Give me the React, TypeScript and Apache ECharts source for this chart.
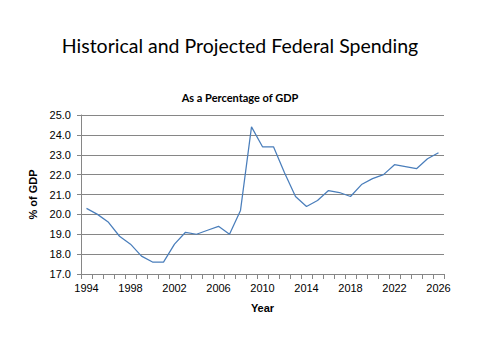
import React, { useEffect, useRef } from "react";
import * as echarts from "echarts";

const years: string[] = [];
for (let y = 1994; y <= 2026; y++) years.push(String(y));

const spending = [
  20.3, 20.0, 19.6, 18.9, 18.5, 17.9, 17.6, 17.6, 18.5, 19.1, 19.0, 19.2, 19.4,
  19.0, 20.2, 24.4, 23.4, 23.4, 22.1, 20.9, 20.4, 20.7, 21.2, 21.1, 20.9, 21.5,
  21.8, 22.0, 22.5, 22.4, 22.3, 22.8, 23.1,
];

const yMin = 17;
const yMax = 25;
const yStep = 1;

export default function App() {
  const ref = useRef<HTMLDivElement>(null);
  useEffect(() => {
    if (!ref.current) return;
    const chart = echarts.init(ref.current, undefined, { renderer: "svg" });
    const font = "Liberation Sans";
    chart.setOption({
      animation: false,
      backgroundColor: "#ffffff",
      title: [
        {
          text: "Historical and Projected Federal Spending",
          left: "center",
          top: 30,
          textStyle: { fontFamily: "Lato", fontSize: 19.5, fontWeight: "normal", color: "#000" },
        },
        {
          text: "As a Percentage of GDP",
          left: "center",
          top: 87,
          textStyle: { fontFamily: "Lato", fontSize: 11, fontWeight: "bold", color: "#000" },
        },
      ],
      grid: { left: 81, right: 36, top: 115, bottom: 86 },
      xAxis: {
        type: "category",
        data: years,
        boundaryGap: true,
        name: "Year",
        nameLocation: "middle",
        nameGap: 28,
        nameTextStyle: { fontFamily: font, fontSize: 11, fontWeight: "bold", color: "#000" },
        axisLine: { lineStyle: { color: "#868686" } },
        axisTick: { show: true, interval: 0, length: 5, lineStyle: { color: "#868686" } },
        axisLabel: { interval: 3, fontFamily: font, fontSize: 11, color: "#000", margin: 8 },
        splitLine: { show: false },
      },
      yAxis: {
        type: "value",
        min: yMin,
        max: yMax,
        interval: yStep,
        name: "% of GDP",
        nameLocation: "middle",
        nameGap: 32,
        nameTextStyle: { fontFamily: font, fontSize: 11, fontWeight: "bold", color: "#000" },
        axisLine: { show: true, lineStyle: { color: "#868686" } },
        axisTick: { show: true, length: 4, lineStyle: { color: "#868686" } },
        axisLabel: {
          fontFamily: font,
          fontSize: 11,
          color: "#000",
          margin: 10,
          formatter: (v: number) => v.toFixed(1),
        },
        splitLine: { lineStyle: { color: "#868686", width: 1 } },
      },
      series: [
        {
          type: "line",
          data: spending,
          symbol: "none",
          lineStyle: { color: "#4a7ebb", width: 1.25 },
        },
      ],
    });
    return () => chart.dispose();
  }, []);
  return <div ref={ref} style={{ width: 480, height: 360, margin: -8 }} />;
}
